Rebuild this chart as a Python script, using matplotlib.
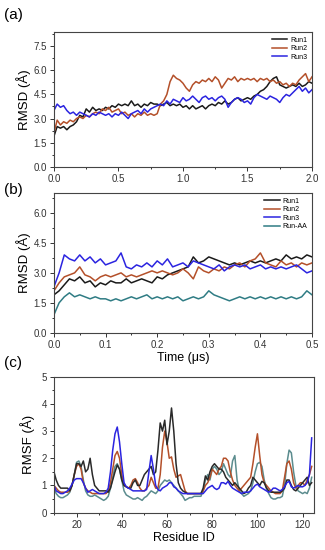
import matplotlib
matplotlib.use('Agg')
import matplotlib.pyplot as plt
import numpy as np
from matplotlib.ticker import MultipleLocator, AutoMinorLocator

plt.rcParams['font.family'] = ['Liberation Sans', 'DejaVu Sans']

# ---- panel (a): RMSD, 0-2 us ----
t_a = np.linspace(0, 2.0, 81)
a_run1 = [1.9, 2.5, 2.4, 2.5, 2.3, 2.5, 2.6, 2.8, 3.2, 3.1, 3.6, 3.4, 3.7, 3.5, 3.6, 3.5,
          3.7, 3.6, 3.8, 3.7, 3.9, 3.8, 3.9, 3.8, 4.1, 3.8, 3.9, 3.7, 3.9, 3.8, 4.0, 3.9,
          3.9, 3.8, 3.9, 4.0, 3.8, 3.9, 3.8, 3.9, 3.7, 3.8, 3.6, 3.8, 3.6, 3.7, 3.8, 3.6,
          3.8, 3.9, 3.8, 4.0, 3.9, 4.1, 3.9, 4.0, 4.2, 4.3, 4.1, 4.2, 4.3, 4.2, 4.4, 4.5,
          4.7, 4.8, 5.0, 5.3, 5.5, 5.6, 5.1, 5.0, 4.9, 5.0, 5.1, 5.0, 5.2, 5.0, 5.1, 5.3, 5.2]
a_run2 = [2.1, 2.9, 2.6, 2.8, 2.7, 2.9, 2.8, 3.0, 3.1, 3.0, 3.2, 3.1, 3.3, 3.4, 3.3, 3.6,
          3.5, 3.7, 3.4, 3.5, 3.6, 3.3, 3.4, 3.2, 3.3, 3.1, 3.3, 3.2, 3.4, 3.2, 3.3, 3.2,
          3.3, 3.9, 4.1, 4.5, 5.3, 5.7, 5.5, 5.4, 5.2, 4.9, 4.7, 5.1, 5.3, 5.2, 5.4, 5.3,
          5.5, 5.3, 5.6, 5.4, 4.9, 5.2, 5.5, 5.4, 5.6, 5.3, 5.5, 5.4, 5.5, 5.4, 5.5, 5.3,
          5.5, 5.4, 5.5, 5.3, 5.4, 5.2, 5.3, 5.1, 5.2, 5.0, 5.2, 5.1, 5.4, 5.6, 5.8, 5.3, 5.6]
a_run3 = [3.5, 3.9, 3.7, 3.8, 3.5, 3.3, 3.4, 3.2, 3.4, 3.3, 3.2, 3.1, 3.3, 3.2, 3.4, 3.3,
          3.2, 3.3, 3.1, 3.3, 3.2, 3.4, 3.2, 3.0, 3.3, 3.4, 3.5, 3.3, 3.6, 3.4, 3.6, 3.7,
          3.8, 3.9, 3.8, 4.1, 3.9, 4.2, 4.1, 4.0, 4.3, 4.1, 4.2, 4.4, 4.2, 4.0, 4.3, 4.4,
          4.2, 4.3, 4.1, 4.3, 4.4, 4.2, 3.7, 4.0, 4.2, 4.3, 4.2, 4.0, 4.1, 3.9, 4.3, 4.5,
          4.4, 4.3, 4.2, 4.4, 4.3, 4.2, 4.0, 4.3, 4.5, 4.4, 4.6, 4.8, 5.0, 4.7, 4.9, 4.6, 4.8]

# ---- panel (b): RMSD, 0-0.5 us ----
t_b = np.linspace(0, 0.5, 51)
b_run1 = [1.9, 2.1, 2.4, 2.7, 2.6, 2.8, 2.5, 2.6, 2.3, 2.5, 2.4, 2.6, 2.5, 2.5, 2.7, 2.5,
          2.6, 2.7, 2.6, 2.5, 2.8, 2.7, 2.9, 3.0, 3.1, 3.2, 3.3, 3.8, 3.5, 3.6, 3.8, 3.7,
          3.6, 3.5, 3.4, 3.5, 3.4, 3.5, 3.6, 3.5, 3.6, 3.5, 3.6, 3.7, 3.6, 3.9, 3.7, 3.8,
          3.7, 3.9, 3.8]
b_run2 = [2.1, 2.5, 2.8, 2.9, 3.0, 3.3, 2.9, 2.8, 2.6, 2.8, 2.9, 2.8, 2.9, 3.0, 2.8, 2.9,
          2.8, 2.9, 3.0, 3.1, 3.0, 3.1, 3.0, 2.9, 3.0, 3.2, 3.0, 2.7, 3.3, 3.1, 3.0, 3.2,
          3.1, 3.3, 3.2, 3.4, 3.5, 3.3, 3.6, 3.7, 4.0, 3.5, 3.4, 3.3, 3.6, 3.4, 3.5, 3.3,
          3.5, 3.4, 3.5]
b_run3 = [2.3, 3.0, 3.9, 3.7, 3.6, 3.9, 3.6, 3.8, 3.5, 3.7, 3.4, 3.5, 3.6, 4.0, 3.3, 3.2,
          3.4, 3.3, 3.5, 3.3, 3.6, 3.4, 3.7, 3.3, 3.4, 3.5, 3.3, 3.6, 3.5, 3.4, 3.3, 3.2,
          3.4, 3.1, 3.3, 3.4, 3.3, 3.4, 3.2, 3.3, 3.4, 3.2, 3.3, 3.2, 3.3, 3.2, 3.3, 3.4,
          3.2, 3.0, 3.1]
b_runaa = [0.9, 1.5, 1.8, 2.0, 1.8, 1.9, 1.8, 1.7, 1.8, 1.7, 1.7, 1.6, 1.7, 1.6, 1.7, 1.8,
           1.7, 1.8, 1.9, 1.7, 1.8, 1.7, 1.8, 1.7, 1.8, 1.6, 1.7, 1.8, 1.7, 1.8, 2.1, 1.9,
           1.8, 1.7, 1.6, 1.7, 1.8, 1.7, 1.8, 1.7, 1.8, 1.7, 1.8, 1.7, 1.8, 1.7, 1.8, 1.7,
           1.8, 2.1, 1.9]

# ---- panel (c): RMSF per residue 10-124 ----
res = np.arange(10, 125)
c_run1 = [1.5, 1.2, 1.0, 0.9, 0.9, 0.9, 0.9, 0.8, 1.0, 1.4, 1.8, 1.8, 1.7, 1.9, 1.5, 1.6,
          2.0, 1.4, 1.0, 0.9, 0.8, 0.8, 0.8, 0.8, 0.75, 0.9, 1.2, 1.5, 1.75, 1.6, 1.2, 1.0,
          0.95, 0.9, 0.9, 1.1, 1.2, 1.0, 1.0, 1.2, 1.4, 1.5, 1.6, 1.7, 1.4, 1.5, 2.3, 3.3,
          3.0, 3.4, 2.5, 3.0, 3.85, 3.0, 1.8, 1.1, 0.9, 0.8, 0.75, 0.7, 0.7, 0.7, 0.7, 0.7,
          0.7, 0.7, 0.9, 1.35, 1.2, 1.5, 1.7, 1.8, 1.7, 1.6, 1.6, 1.5, 1.3, 1.2, 1.1, 1.0,
          1.1, 1.0, 0.9, 0.8, 0.7, 0.75, 0.9, 1.0, 1.3, 1.2, 1.1, 1.0, 1.15, 1.1, 0.9, 0.8,
          0.75, 0.75, 0.75, 0.75, 0.75, 0.8, 0.9, 1.2, 1.2, 1.0, 0.85, 0.8, 0.9, 1.0, 1.1,
          1.2, 1.3, 1.0, 1.1]
c_run2 = [1.0, 0.9, 0.8, 0.75, 0.75, 0.75, 0.75, 0.8, 1.0, 1.4, 1.7, 1.8, 1.6, 1.1, 0.9, 0.8,
          0.75, 0.7, 0.7, 0.7, 0.7, 0.7, 0.7, 0.7, 0.8, 1.1, 1.6, 2.1, 2.25, 2.0, 1.4, 1.0,
          0.95, 0.9, 1.0, 1.2, 1.25, 1.1, 0.9, 0.8, 0.8, 0.9, 1.0, 1.3, 1.1, 0.9, 0.9, 1.4,
          2.4, 3.0, 2.6, 2.0, 2.05, 1.6, 1.3, 1.35, 1.4, 1.1, 0.8, 0.7, 0.7, 0.7, 0.7, 0.7,
          0.7, 0.7, 0.8, 1.0, 1.1, 1.3, 1.6, 1.5, 1.4, 1.6, 1.7, 2.0, 2.0, 1.9, 1.5, 1.2,
          1.0, 0.9, 0.8, 0.9, 1.0, 1.1, 1.2, 1.3, 1.8, 2.4, 2.9, 2.1, 1.4, 1.1, 1.0, 0.9,
          0.8, 0.75, 0.7, 0.7, 0.7, 0.8, 1.3, 1.8, 1.9, 1.6, 1.1, 0.9, 1.0, 1.1, 1.1,
          1.0, 1.2, 1.4, 1.7]
c_run3 = [1.0, 0.8, 0.75, 0.7, 0.7, 0.75, 0.8, 0.9, 1.05, 1.2, 1.25, 1.25, 1.25, 1.1, 0.9, 0.75,
          0.8, 0.85, 0.8, 0.75, 0.7, 0.7, 0.7, 0.75, 0.9, 1.5, 2.3, 2.9, 3.15, 2.6, 1.8, 1.1,
          0.95, 0.9, 0.85, 0.8, 0.8, 0.8, 0.8, 0.8, 0.8, 0.85, 1.5, 2.1, 1.6, 1.0, 0.85, 0.8,
          0.9, 0.95, 1.0, 1.1, 1.1, 0.95, 0.9, 0.8, 0.75, 0.7, 0.7, 0.7, 0.7, 0.7, 0.7, 0.7,
          0.7, 0.7, 0.7, 0.8, 0.9, 0.95, 1.0, 0.9, 0.85, 0.9, 1.1, 1.1, 1.05, 1.15, 1.0, 0.9,
          0.85, 0.8, 0.75, 0.7, 0.75, 0.75, 0.75, 0.8, 0.9, 1.0, 1.05, 0.95, 0.9, 0.85, 0.8, 0.75,
          0.8, 0.9, 0.9, 0.85, 0.8, 0.85, 0.95, 1.1, 1.15, 0.95, 0.9, 0.95, 1.0, 0.95, 0.95,
          1.0, 1.1, 1.4, 2.75]
c_runaa = [0.9, 0.7, 0.6, 0.55, 0.55, 0.6, 0.65, 0.75, 1.0, 1.4, 1.85, 1.9, 1.7, 1.2, 0.8, 0.65,
           0.6, 0.6, 0.65, 0.6, 0.55, 0.5, 0.45, 0.5, 0.6, 0.9, 1.3, 1.7, 1.8, 1.6, 1.2, 0.8,
           0.65, 0.6, 0.55, 0.5, 0.5, 0.55, 0.5, 0.45, 0.55, 0.6, 0.7, 0.8, 0.75, 0.7, 0.8, 1.0,
           1.1, 1.2, 1.15, 1.2, 1.1, 1.0, 0.9, 0.8, 0.7, 0.6, 0.45, 0.5, 0.55, 0.55, 0.6, 0.6,
           0.6, 0.6, 0.8, 1.2, 1.4, 1.2, 1.6, 1.7, 1.6, 1.4, 1.5, 1.8, 1.6, 1.4, 1.3, 1.9,
           2.1, 1.2, 0.8, 0.7, 0.6, 0.65, 0.7, 0.8, 1.1, 1.5, 1.8, 1.85, 1.7, 1.2, 0.9, 0.7,
           0.55, 0.5, 0.5, 0.55, 0.55, 0.6, 1.0, 1.8, 2.3, 2.2, 1.5, 1.0, 0.8, 0.75, 0.7,
           0.75, 0.7, 0.9, 1.3]

c_black = '#1a1a1a'
c_brown = '#b4502a'
c_blue = '#2b24e0'
c_teal = '#2f7c84'

fig = plt.figure(figsize=(3.25, 5.5), dpi=100)
axa = fig.add_axes([0.166, 0.697, 0.794, 0.245])
axb = fig.add_axes([0.166, 0.395, 0.794, 0.254])
axc = fig.add_axes([0.166, 0.068, 0.800, 0.247])

def style(ax):
    ax.tick_params(which='both', direction='out', labelsize=7, colors='#333333',
                   top=False, right=False, width=0.7)
    ax.tick_params(which='major', length=3, pad=2)
    ax.tick_params(which='minor', length=1.5)
    for s in ax.spines.values():
        s.set_linewidth(0.8)
        s.set_color('#444444')
    ax.xaxis.set_minor_locator(AutoMinorLocator(2))
    ax.yaxis.set_minor_locator(AutoMinorLocator(2))

lw = 1.1
axa.plot(t_a, a_run1, color=c_black, lw=lw, label='Run1')
axa.plot(t_a, a_run2, color=c_brown, lw=lw, label='Run2')
axa.plot(t_a, a_run3, color=c_blue, lw=lw, label='Run3')
axa.set_xlim(0, 2.0)
axa.set_ylim(0, 8.4)
axa.xaxis.set_major_locator(MultipleLocator(0.5))
axa.yaxis.set_major_locator(MultipleLocator(1.5))
axa.set_ylabel('RMSD (Å)', fontsize=9.5, labelpad=2)
style(axa)
axa.legend(loc='upper right', fontsize=5, frameon=False, handlelength=2.2,
           handletextpad=0.4, labelspacing=0.2, borderaxespad=0.3)

axb.plot(t_b, b_run1, color=c_black, lw=lw, label='Run1')
axb.plot(t_b, b_run2, color=c_brown, lw=lw, label='Run2')
axb.plot(t_b, b_run3, color=c_blue, lw=lw, label='Run3')
axb.plot(t_b, b_runaa, color=c_teal, lw=lw, label='Run-AA')
axb.set_xlim(0, 0.5)
axb.set_ylim(0, 7.0)
axb.xaxis.set_major_locator(MultipleLocator(0.1))
axb.yaxis.set_major_locator(MultipleLocator(1.5))
axb.set_ylabel('RMSD (Å)', fontsize=9.5, labelpad=2)
axb.set_xlabel('Time (μs)', fontsize=9, labelpad=2)
style(axb)
axb.legend(loc='upper right', fontsize=5, frameon=False, handlelength=2.2,
           handletextpad=0.4, labelspacing=0.2, borderaxespad=0.3)

axc.plot(res, c_runaa, color='#5b8c8e', lw=lw)
axc.plot(res, c_run2, color=c_brown, lw=lw)
axc.plot(res, c_run1, color='#2a2a2a', lw=lw)
axc.plot(res, c_run3, color=c_blue, lw=lw)
axc.set_xlim(10, 125)
axc.set_ylim(0, 5)
axc.xaxis.set_major_locator(MultipleLocator(20))
axc.yaxis.set_major_locator(MultipleLocator(1))
axc.set_ylabel('RMSF (Å)', fontsize=9.5, labelpad=5)
axc.set_xlabel('Residue ID', fontsize=9, labelpad=2)
style(axc)

fig.text(0.012, 0.973, '(a)', fontsize=11, va='center')
fig.text(0.012, 0.655, '(b)', fontsize=11, va='center')
fig.text(0.012, 0.340, '(c)', fontsize=11, va='center')

plt.savefig('out.png', dpi=100)
